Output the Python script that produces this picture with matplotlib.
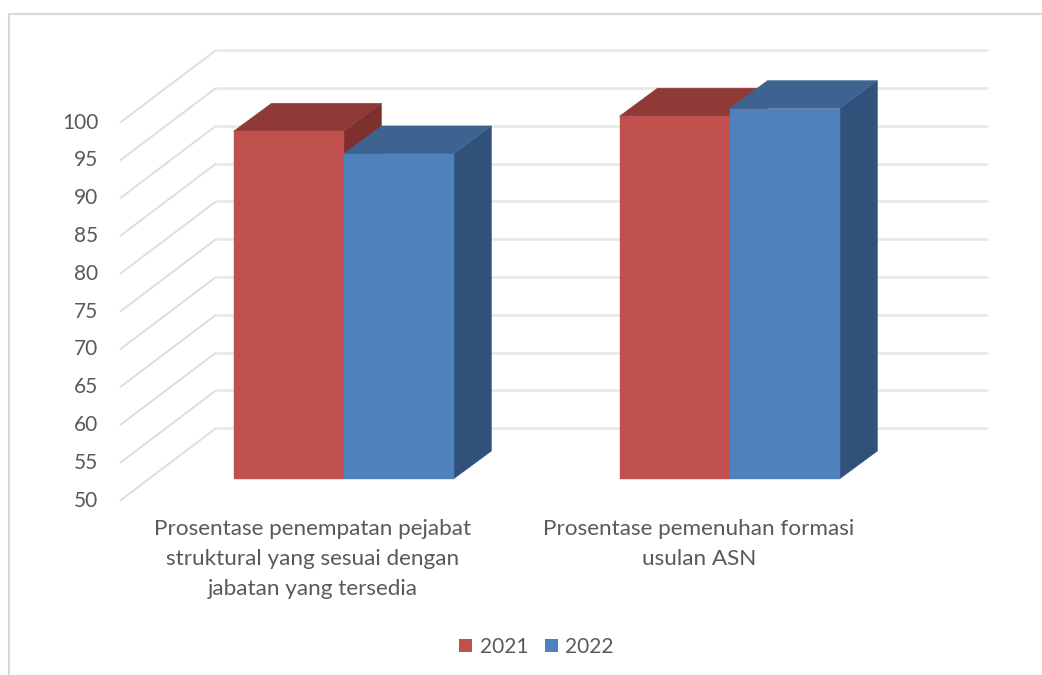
import matplotlib
matplotlib.use('Agg')
import matplotlib.pyplot as plt
from matplotlib.lines import Line2D
from matplotlib.patches import Patch
from matplotlib.transforms import ScaledTranslation

categories = ['Prosentase penempatan pejabat\nstruktural yang sesuai dengan\njabatan yang tersedia',
              'Prosentase pemenuhan formasi\nusulan ASN']
series_names = ['2021', '2022']
values_2021 = [96, 98]
values_2022 = [93, 99]
y_ticks = [50, 55, 60, 65, 70, 75, 80, 85, 90, 95, 100]

W, H = 1042, 675
PX_X = 386.0   # pixels for one category
PX_Y = 7.56    # pixels for one unit of the value axis

plt.rcParams['font.family'] = ['Lato', 'DejaVu Sans']
text_color = '#595959'

fig = plt.figure(figsize=(W / 100, H / 100), dpi=100, facecolor='white')
ax = fig.add_axes([120 / W, (H - 500.7) / H, 868 / W, 450.7 / H])
ax.set_xlim(0, 868 / PX_X)
ax.set_ylim(50, 50 + 450.7 / PX_Y)
for s in ax.spines.values():
    s.set_visible(False)

# outer frame of the chart
fig.add_artist(Line2D([8.5 / W, 8.5 / W, 1], [0, (H - 14) / H, (H - 14) / H], color='#d9d9d9', lw=1.5))

# walls: each gridline runs along the side wall and then the back wall
wall_x = 96 / PX_X
wall_y = 72.5 / PX_Y
for v in y_ticks:
    ax.plot([0, wall_x], [v, v + wall_y], color='#dedede', lw=1.4, clip_on=False, zorder=1,
            solid_capstyle='butt')
    ax.plot([wall_x, 868 / PX_X], [v + wall_y, v + wall_y], color='#e8e8e8', lw=1.9, clip_on=False, zorder=1,
            solid_capstyle='butt')


def bar3d(x0, width, val, front, top, side):
    # front face sits part way into the floor, the depth goes up and to the right
    shift_y = 21.7 / PX_Y
    dx = 38 / PX_X
    dy = 28 / PX_Y
    y0 = 50 + shift_y
    y1 = val + shift_y
    x1 = x0 + width
    ax.fill([x1, x1 + dx, x1 + dx, x1], [y0, y0 + dy, y1 + dy, y1], color=side, lw=0.3, zorder=3)
    ax.fill([x0, x0 + dx, x1 + dx, x1], [y1, y1 + dy, y1 + dy, y1], color=top, lw=0.3, zorder=3)
    ax.fill([x0, x1, x1, x0], [y0, y0, y1, y1], color=front, lw=0.3, zorder=3)


bar_w = 110 / PX_X
offset = 30.5 / PX_X
for i in range(len(categories)):
    c = i + 0.5 + offset
    bar3d(c - bar_w, bar_w, values_2021[i], '#c0504d', '#8f3a38', '#7e302e')
    bar3d(c, bar_w, values_2022[i], '#4f81bd', '#3d6491', '#30527a')

ax.set_yticks(y_ticks)
ax.set_xticks([i + 0.5 for i in range(len(categories))])
ax.set_xticklabels(categories, fontsize=16.2, color=text_color, linespacing=1.6, ha='center', va='top')
ax.tick_params(axis='x', length=0, pad=13.5)
ax.tick_params(axis='y', length=0, pad=15.5, labelsize=15, labelcolor=text_color)
for lab in ax.get_yticklabels():
    lab.set_transform(lab.get_transform() + ScaledTranslation(0, 2 / 100, fig.dpi_scale_trans))

handles = [Patch(color='#c0504d', lw=0), Patch(color='#4f81bd', lw=0)]
fig.legend(handles, series_names, ncol=2, loc='center', bbox_to_anchor=(536.5 / W, (H - 647) / H),
           frameon=False, fontsize=15, labelcolor=text_color, handlelength=0.62, handleheight=0.62,
           handletextpad=0.35, columnspacing=0.8, borderpad=0, borderaxespad=0)

plt.savefig('out.png', dpi=100)
